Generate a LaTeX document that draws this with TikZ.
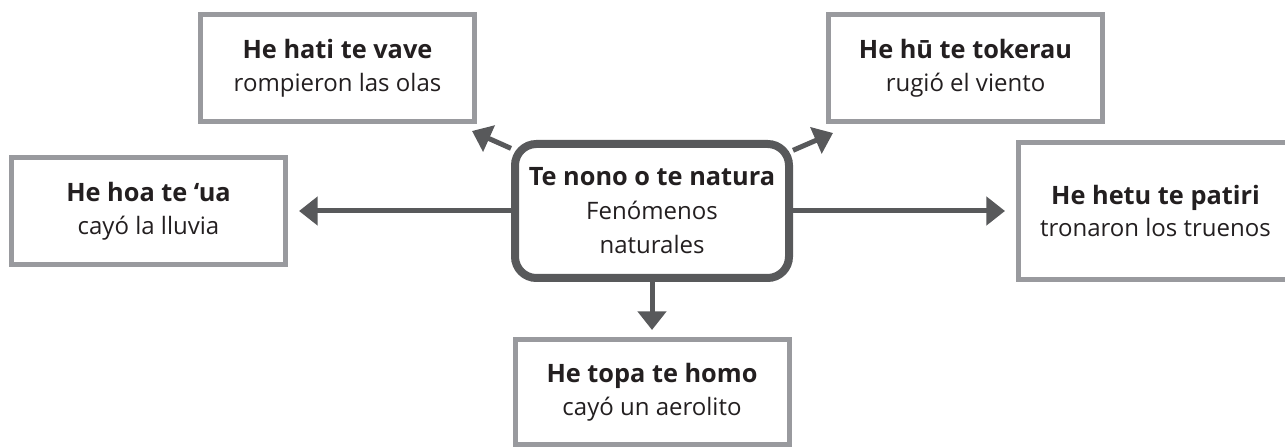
\documentclass[tikz,border=0pt]{standalone}
\usepackage{fontspec}
\setmainfont{Open Sans}
\usetikzlibrary{positioning,arrows.meta}

\definecolor{framegray}{HTML}{999A9E}
\definecolor{arrowgray}{HTML}{58595B}
\definecolor{textgray}{HTML}{231F20}

\newcommand{\headline}[1]{{\fontsize{19}{24.5}\selectfont\bfseries #1}}

\tikzset{
    term/.style={rectangle, draw=framegray, line width=3.75pt, fill=white,
        minimum width=205.5pt, minimum height=80.25pt, inner sep=0pt,
        align=center, text=textgray, font=\fontsize{18}{24.5}\selectfont},
    hub/.style={rectangle, rounded corners=16pt, draw=arrowgray, line width=6pt, fill=white,
        minimum width=205.5pt, minimum height=100.5pt, inner sep=0pt,
        align=center, text=textgray, font=\fontsize{18}{25.5}\selectfont},
    link/.style={draw=arrowgray, line width=3.75pt, -{Triangle[length=14pt,width=21pt]}}
}

\begin{document}
\begin{tikzpicture}[x=0.75pt, y=-0.75pt]
        \useasboundingbox (0,0) rectangle (1285,448);
        \clip (0,0) rectangle (1285,448);

        % Nodes
        \node (center) [hub] at (652,211) {\headline{Te nono o te natura}\\Fenómenos\\naturales};
        \node (rain) [term, left=167.25pt of center] {\headline{He hoa te ‘ua}\\cayó la lluvia};
        \node (thunder) [term, minimum height=102.75pt, right=167.25pt of center] {\headline{He hetu te patiri}\\tronaron los truenos};
        \node (meteor) [term, minimum height=78.75pt, below=41.25pt of center] {\headline{He topa te homo}\\cayó un aerolito};
        \node (waves) [term, above left=12pt and 25.5pt of center] {\headline{He hati te vave}\\rompieron las olas};
        \node (wind) [term, above right=12pt and 24.75pt of center] {\headline{He hū te tokerau}\\rugió el viento};

        \coordinate (wavestip) at ([shift={(-5,7)}]waves.south east);
        \coordinate (windtip) at ([shift={(7,9)}]wind.south west);

        % Arrows
        \draw[link, shorten >=8.25pt] (center) -- (rain);
        \draw[link, shorten >=8.25pt] (center) -- (thunder);
        \draw[link, shorten >=5.25pt] (center) -- (meteor);
        \draw[link] (center) -- (wavestip);
        \draw[link] (center) -- (windtip);
    \end{tikzpicture}
\end{document}
